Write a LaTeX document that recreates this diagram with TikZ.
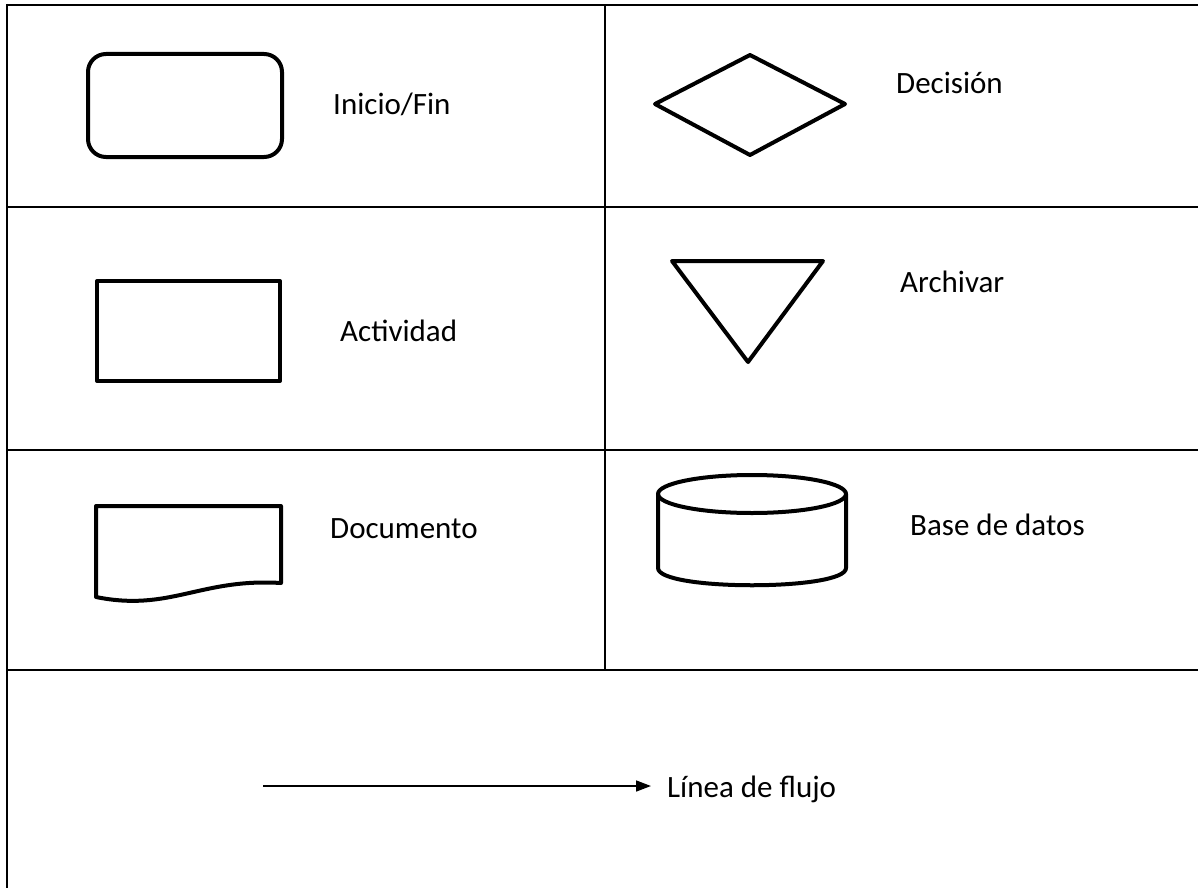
\documentclass[tikz,border=0pt]{standalone}
\usepackage{fontspec}
\setmainfont{Carlito}
\usetikzlibrary{arrows.meta}
\begin{document}
\begin{tikzpicture}[x=1pt,y=-1pt,
  grid/.style={line width=2pt, black},
  symbol/.style={line width=4pt, black, line join=round, line cap=round},
  label/.style={anchor=base west, inner sep=0pt, font=\fontsize{31}{37}\selectfont},
  flow/.style={line width=1.6pt, -{Triangle[length=15pt,width=11pt]}}]
\useasboundingbox (0,0) rectangle (1198,888);

% table rules
\draw[grid] (7,5) -- (1198,5);
\draw[grid] (7,4) -- (7,888);
\draw[grid] (605,5) -- (605,670);
\draw[grid] (7,207) -- (1198,207);
\draw[grid] (7,450) -- (1198,450);
\draw[grid] (7,670) -- (1198,670);

% start / end
\draw[symbol, rounded corners=18pt] (88,54) rectangle (282,157);
\node[label] (tInicio) at (333,114) {Inicio/Fin};

% decision
\draw[symbol] (655,104) -- (750,55) -- (845,104) -- (750,155) -- cycle;
\node[label] (tDecision) at (896,94) {Decisión};

% activity
\draw[symbol] (97,281) rectangle (280,381);
\node[label] (tActividad) at (340,341) {Actividad};

% archive
\draw[symbol] (672,261) -- (823,261) -- (748,362) -- cycle;
\node[label] (tArchivar) at (900,292) {Archivar};

% document
\draw[symbol] (96,597) -- (96,506) -- (281,506) -- (281,583)
  .. controls (200,578) and (170,612) .. (96,597);
\node[label] (tDocumento) at (330,538) {Documento};

% database
\draw[symbol] (752,494) ellipse [x radius=94, y radius=19];
\draw[symbol] (658,494) -- (658,568) .. controls (658,591) and (846,591) .. (846,568) -- (846,494);
\node[label] (tBase) at (910,535) {Base de datos};

% flow line
\coordinate (fStart) at (263,786);
\coordinate (fEnd) at (651,786);
\draw[flow] (fStart) -- (fEnd);
\node[label] (tFlujo) at (667,797) {Línea de flujo};
\end{tikzpicture}
\end{document}
